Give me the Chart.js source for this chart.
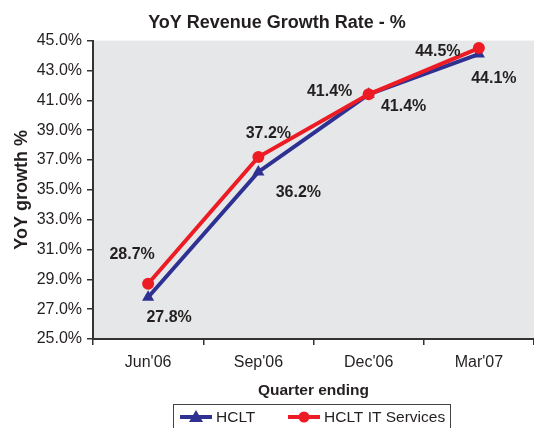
<!DOCTYPE html>
<html><head><meta charset="utf-8">
<script src="https://cdn.jsdelivr.net/npm/chart.js@4.4.0/dist/chart.umd.min.js"></script>
<style>html,body{margin:0;padding:0;background:#fff;}</style>
</head><body>
<canvas id="c" width="534" height="428"></canvas>
<script>
const categories = ["Jun'06", "Sep'06", "Dec'06", "Mar'07"];
const hcltValues = [27.8, 36.2, 41.4, 44.1];
const hcltITValues = [28.7, 37.2, 41.4, 44.5];
const yMin = 25, yMax = 45, yStep = 2;

const BLUE = '#2e3192', RED = '#ed1c24', TEXT = '#231f20', FONT = "'Liberation Sans', Arial, sans-serif";

// label offsets (style, not data): relative to each point
const labelOffsets = {
  0: [[21, 20], [40, 21], [35, 12], [15, 25]],
  1: [[-16, -29], [10, -23], [-39, -3], [-41, 4]]
};

const bgPlugin = {
  id: 'bg',
  beforeDraw(chart) {
    const {ctx, chartArea: a} = chart;
    ctx.save(); ctx.fillStyle = '#e6e7e8';
    ctx.fillRect(a.left, a.top, a.right - a.left, a.bottom - a.top);
    ctx.restore();
  }
};

const labelPlugin = {
  id: 'vlabels',
  afterDatasetsDraw(chart) {
    const ctx = chart.ctx;
    ctx.save();
    ctx.font = "bold 16px " + FONT;
    ctx.fillStyle = TEXT;
    ctx.textAlign = 'center'; ctx.textBaseline = 'middle';
    chart.data.datasets.forEach((ds, di) => {
      const meta = chart.getDatasetMeta(di);
      meta.data.forEach((pt, i) => {
        const off = labelOffsets[di][i];
        ctx.fillText(ds.data[i].toFixed(1) + '%', pt.x + off[0], pt.y + off[1]);
      });
    });
    ctx.restore();
  }
};

const legendPlugin = {
  id: 'customLegend',
  afterDraw(chart) {
    const ctx = chart.ctx;
    ctx.save();
    ctx.strokeStyle = '#444'; ctx.lineWidth = 1;
    ctx.strokeRect(173.5, 404.5, 277, 30);
    const y = 417;
    const items = [
      {x: 180, color: BLUE, style: 'triangle', text: chart.data.datasets[0].label},
      {x: 288, color: RED, style: 'circle', text: chart.data.datasets[1].label}
    ];
    items.forEach(it => {
      ctx.strokeStyle = it.color; ctx.lineWidth = 4;
      ctx.beginPath(); ctx.moveTo(it.x, y); ctx.lineTo(it.x + 32, y); ctx.stroke();
      ctx.fillStyle = it.color;
      const cx = it.x + 16;
      ctx.beginPath();
      if (it.style === 'circle') { ctx.arc(cx, y, 5.5, 0, Math.PI * 2); }
      else { ctx.moveTo(cx, y - 7); ctx.lineTo(cx + 7, y + 5); ctx.lineTo(cx - 7, y + 5); ctx.closePath(); }
      ctx.fill();
      ctx.fillStyle = TEXT; ctx.font = "15.5px " + FONT;
      ctx.textAlign = 'left'; ctx.textBaseline = 'middle';
      ctx.fillText(it.text, it.x + 36, y + 1);
    });
    ctx.restore();
  }
};

new Chart(document.getElementById('c'), {
  type: 'line',
  data: {
    labels: categories,
    datasets: [
      {label: 'HCLT', data: hcltValues, borderColor: BLUE, backgroundColor: BLUE, borderWidth: 4,
       pointStyle: 'triangle', pointRadius: 7, pointBorderWidth: 0, order: 2, tension: 0},
      {label: 'HCLT IT Services', data: hcltITValues, borderColor: RED, backgroundColor: RED, borderWidth: 4,
       pointStyle: 'circle', pointRadius: 6, pointBorderWidth: 0, order: 1, tension: 0}
    ]
  },
  options: {
    responsive: false, animation: false,
    layout: {autoPadding: false, padding: {left: 20, right: 0, top: 0, bottom: 27}},
    plugins: {
      legend: {display: false}, tooltip: {enabled: false},
      title: {display: true, text: 'YoY Revenue Growth Rate - %', color: TEXT,
        font: {family: FONT, size: 18, weight: 'bold', lineHeight: 1.2}, padding: {top: 12, bottom: 7}}
    },
    scales: {
      x: {
        type: 'category', offset: true,
        grid: {display: true, drawOnChartArea: false, drawTicks: true, tickLength: 6, color: '#333', lineWidth: 1.5, offset: true},
        border: {display: true, color: '#333', width: 2},
        ticks: {color: TEXT, font: {family: FONT, size: 16}, padding: 8, maxRotation: 0},
        title: {display: true, text: 'Quarter ending', color: TEXT, font: {family: FONT, size: 15.5, weight: 'bold', lineHeight: 1.2}, padding: {top: 0, bottom: 1}},
        afterFit(s) { s.height = 62; s.paddingRight = 0; s.paddingLeft = 0; }
      },
      y: {
        min: yMin, max: yMax,
        grid: {display: true, drawOnChartArea: false, drawTicks: true, tickLength: 6, color: '#333', lineWidth: 1.5},
        border: {display: true, color: '#333', width: 2},
        ticks: {stepSize: yStep, color: TEXT, font: {family: FONT, size: 16}, padding: 5,
          callback: v => Number(v).toFixed(1) + '%'},
        title: {display: true, text: 'YoY growth %', color: TEXT, font: {family: FONT, size: 18, weight: 'bold', lineHeight: 0.2}, padding: {top: 0, bottom: 0}},
        afterFit(s) { s.width = 73; }
      }
    }
  },
  plugins: [bgPlugin, labelPlugin, legendPlugin]
});
</script>
</body></html>
